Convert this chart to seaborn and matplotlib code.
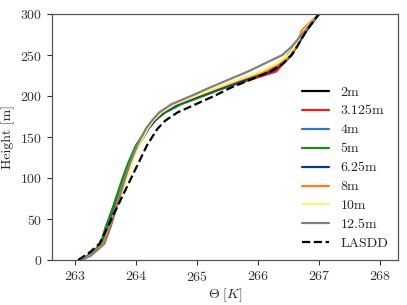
import matplotlib
matplotlib.use("Agg")
import matplotlib.pyplot as plt
import seaborn as sns
import pandas as pd

heights = [0, 5, 10, 20, 40, 60, 80, 100, 120, 140, 160, 170, 180, 190, 200,
           210, 220, 230, 240, 250, 260, 280, 300]

labels = ["2m", "3.125m", "4m", "5m", "6.25m", "8m", "10m", "12.5m", "LASDD"]

theta_2m = [263.10, 263.22, 263.32, 263.45, 263.55, 263.64, 263.73, 263.82, 263.92, 264.04, 264.20, 264.31, 264.46, 264.70, 265.05, 265.40, 265.80, 266.25, 266.40, 266.50, 266.60, 266.78, 267.00]
theta_3125m = [263.10, 263.20, 263.30, 263.44, 263.54, 263.63, 263.72, 263.81, 263.91, 264.03, 264.19, 264.30, 264.45, 264.70, 265.05, 265.45, 265.88, 266.30, 266.42, 266.52, 266.60, 266.78, 267.00]
theta_4m = [263.10, 263.22, 263.31, 263.44, 263.54, 263.63, 263.72, 263.81, 263.91, 264.03, 264.19, 264.29, 264.44, 264.68, 265.02, 265.40, 265.78, 266.20, 266.40, 266.56, 266.63, 266.79, 267.00]
theta_5m = [263.10, 263.20, 263.30, 263.42, 263.50, 263.60, 263.69, 263.78, 263.88, 264.00, 264.18, 264.30, 264.48, 264.74, 265.10, 265.45, 265.82, 266.20, 266.38, 266.49, 266.60, 266.78, 267.00]
theta_625m = [263.10, 263.22, 263.32, 263.45, 263.55, 263.64, 263.73, 263.82, 263.92, 264.04, 264.20, 264.30, 264.45, 264.69, 265.04, 265.40, 265.80, 266.22, 266.42, 266.55, 266.63, 266.80, 267.00]
theta_8m = [263.10, 263.25, 263.32, 263.46, 263.56, 263.65, 263.73, 263.82, 263.92, 264.03, 264.17, 264.27, 264.40, 264.62, 264.98, 265.35, 265.72, 266.12, 266.38, 266.55, 266.62, 266.72, 267.00]
theta_10m = [263.10, 263.24, 263.34, 263.48, 263.58, 263.67, 263.76, 263.85, 263.94, 264.05, 264.19, 264.28, 264.42, 264.64, 264.98, 265.32, 265.68, 266.05, 266.32, 266.50, 266.60, 266.76, 267.00]
theta_125m = [263.10, 263.25, 263.33, 263.48, 263.58, 263.66, 263.74, 263.82, 263.91, 264.02, 264.16, 264.26, 264.38, 264.58, 264.90, 265.20, 265.52, 265.84, 266.12, 266.40, 266.55, 266.78, 267.00]
theta_lasdd = [263.05, 263.15, 263.25, 263.40, 263.53, 263.66, 263.79, 263.92, 264.05, 264.18, 264.35, 264.48, 264.68, 264.98, 265.28, 265.55, 265.88, 266.20, 266.42, 266.55, 266.64, 266.80, 267.00]

series = [theta_2m, theta_3125m, theta_4m, theta_5m, theta_625m, theta_8m,
          theta_10m, theta_125m, theta_lasdd]
colors = ["black", "#ee1c1c", "#2f78c0", "#1a8a1a", "#0b3a8c", "#ff7f0e",
          "#fff07a", "#808080", "black"]

sns.set_style("ticks")
plt.rcParams["font.family"] = ["serif"]
plt.rcParams["font.serif"] = ["cmr10", "DejaVu Serif"]
plt.rcParams["mathtext.fontset"] = "cm"
plt.rcParams["axes.unicode_minus"] = False
plt.rcParams["axes.formatter.use_mathtext"] = True

fig = plt.figure(figsize=(4.07, 3.05), dpi=100)
ax = fig.add_axes([0.1278, 0.1475, 0.8502, 0.8065])

for lab, th, c in zip(labels, series, colors):
    df = pd.DataFrame({"theta": th, "height": heights})
    ls = "--" if lab == "LASDD" else "-"
    sns.lineplot(data=df, x="theta", y="height", sort=False, estimator=None,
                 color=c, linestyle=ls, linewidth=1.6, label=lab, ax=ax)

ax.set_xlim(262.62, 268.3)
ax.set_ylim(0, 300)
ax.set_xticks([263, 264, 265, 266, 267, 268])
ax.set_yticks([0, 50, 100, 150, 200, 250, 300])
ax.set_xlabel(r"$\Theta\ [K]$", fontsize=10, labelpad=2)
ax.set_ylabel("Height [m]", fontsize=10)
ax.tick_params(labelsize=10, length=3.5, width=0.8, colors="#333333")
for s in ax.spines.values():
    s.set_color("#555555")
    s.set_linewidth(0.9)

leg = ax.legend(loc="lower right", frameon=False, fontsize=10,
                handlelength=2.0, labelspacing=0.45, borderaxespad=0.3)

fig.savefig("out.png", dpi=100)
